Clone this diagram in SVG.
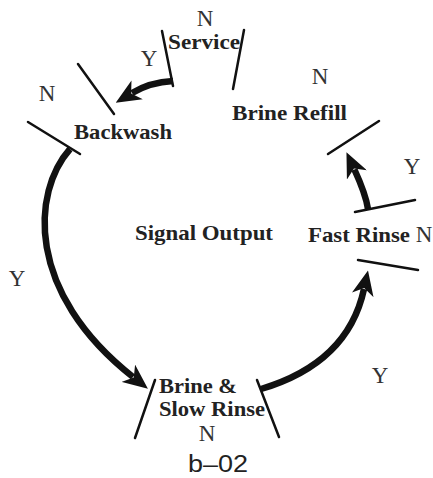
<svg xmlns="http://www.w3.org/2000/svg" width="433" height="478" viewBox="0 0 433 478">
<defs>
<style>
.lbl{font-family:"Liberation Serif","Times New Roman",serif;font-weight:bold;font-size:21px;fill:#222}
.yn{font-family:"Liberation Serif","Times New Roman",serif;font-size:23px;fill:#333;text-anchor:middle}
.cap{font-family:"Liberation Sans",Arial,sans-serif;font-size:23px;fill:#222}
.tick{stroke:#111;stroke-width:2.5;fill:none;stroke-linecap:round}
.arr{stroke:#111;stroke-width:6.5;fill:none;marker-end:url(#ah)}
</style>
<marker id="ah" viewBox="0 0 25 22" refX="6" refY="11" markerWidth="25" markerHeight="22" markerUnits="userSpaceOnUse" orient="auto">
<path d="M0,0 L25,11 L0,22 L7,11 Z" fill="#111"/>
</marker>
</defs>
<rect width="433" height="478" fill="#fff"/>

<g id="connectors">
<path class="arr" d="M173,81 C155,82 142,87 132,93"/>
<path class="arr" d="M70,149 C32,192 25,292 133,377"/>
<path class="arr" d="M261,389 C318,372 353,340 364,289"/>
<path class="arr" d="M368,209 C366,196 362,186 354.4,169.5"/>
</g>

<g id="service">
<line class="tick" x1="162" y1="31" x2="173" y2="86"/>
<line class="tick" x1="244" y1="30" x2="233" y2="89"/>
<text class="lbl" x="168" y="49" textLength="72" lengthAdjust="spacingAndGlyphs">Service</text>
<text class="yn" x="205" y="26">N</text>
<text class="yn" x="149" y="66">Y</text>
</g>

<g id="backwash">
<line class="tick" x1="78" y1="64" x2="114" y2="114"/>
<line class="tick" x1="28" y1="122" x2="80" y2="154"/>
<text class="lbl" x="74" y="139" textLength="98" lengthAdjust="spacingAndGlyphs">Backwash</text>
<text class="yn" x="47" y="101">N</text>
<text class="yn" x="17" y="286">Y</text>
</g>

<g id="brine-refill">
<line class="tick" x1="379" y1="121" x2="328" y2="154"/>
<text class="lbl" x="232" y="120" textLength="115" lengthAdjust="spacingAndGlyphs">Brine Refill</text>
<text class="yn" x="320" y="84">N</text>
</g>

<g id="signal-output">
<text class="lbl" x="135" y="240" textLength="138" lengthAdjust="spacingAndGlyphs">Signal Output</text>
</g>

<g id="fast-rinse">
<line class="tick" x1="355" y1="212" x2="415" y2="200"/>
<line class="tick" x1="358" y1="260" x2="418" y2="270"/>
<text class="lbl" x="308" y="242" textLength="102" lengthAdjust="spacingAndGlyphs">Fast Rinse</text>
<text class="yn" x="424" y="242">N</text>
<text class="yn" x="412" y="174">Y</text>
</g>

<g id="brine-slow-rinse">
<line class="tick" x1="155" y1="380" x2="135" y2="438"/>
<line class="tick" x1="257" y1="380" x2="279" y2="437"/>
<text class="lbl" x="159" y="393" textLength="78" lengthAdjust="spacingAndGlyphs">Brine &amp;</text>
<text class="lbl" x="159" y="416" textLength="106" lengthAdjust="spacingAndGlyphs">Slow Rinse</text>
<text class="yn" x="207" y="441">N</text>
<text class="yn" x="380" y="383">Y</text>
</g>

<g id="caption">
<text class="cap" x="188" y="472" textLength="60" lengthAdjust="spacingAndGlyphs">b–02</text>
</g>
</svg>
